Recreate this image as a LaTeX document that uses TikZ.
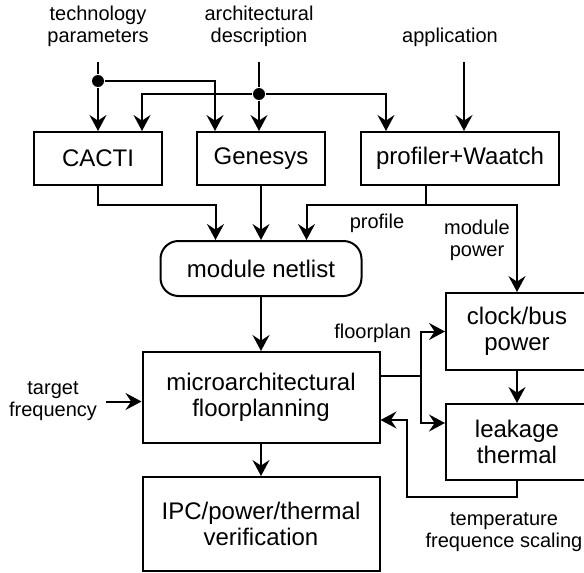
\documentclass[tikz,border=0pt]{standalone}
\usepackage{fontspec}
\setmainfont{Liberation Sans}
\usetikzlibrary{arrows.meta,positioning,calc}

\begin{document}
\begin{tikzpicture}[x=0.5pt,y=-0.5pt,line width=1pt,
  box/.style={draw,align=center,inner sep=0pt,
    font=\fontsize{12}{13}\selectfont},
  lbl/.style={align=center,inner sep=0pt,font=\fontsize{10}{11}\selectfont},
  jdot/.style={circle,fill,inner sep=0pt,minimum size=6pt},
  arr/.style={-{Stealth[length=8pt,width=8.5pt,inset=2.8pt]}}]

\useasboundingbox (0,0) rectangle (584,573);

% inputs
\node[lbl] (techp) at (98,26) {technology\\parameters};
\node[lbl] (archd) at (259,26) {architectural\\description};
\node[lbl] (appl) at (450,37) {application};

% tools
\node[box,minimum width=64pt,minimum height=26.5pt] (cacti) at (98,158.5) {CACTI};
\node[box,minimum width=64pt,minimum height=26.5pt] (genesys) at (261,158.5) {Genesys};
\node[box,minimum width=99pt,minimum height=26.5pt] (profiler) at (460,158.5) {profiler+Waatch};

% flow
\node[box,rounded corners=9pt,minimum width=100.5pt,minimum height=27.5pt]
  (netlist) at (261,268.5) {module netlist};
\node[box,minimum width=118.5pt,minimum height=45.5pt]
  (micro) at (261,397.5) {microarchitectural\\floorplanning};
\node[box,minimum width=118.5pt,minimum height=47pt]
  (ipc) at (261,524) {IPC/power/thermal\\verification};
\node[box,minimum width=71pt,minimum height=38.5pt]
  (clock) at (517,331.5) {clock/bus\\power};
\node[box,minimum width=71pt,minimum height=38pt]
  (leak) at (517,442) {leakage\\thermal};

% input wires
\coordinate (techin) at (98,62);
\node[jdot] (d1) at (98,81) {};
\coordinate (archin) at (259,62);
\node[jdot] (d2) at (259,94) {};
\coordinate (appin) at (464,62);

\draw[arr] (techin) -- (d1) -- (d1 |- cacti.north);
\draw[arr] (d1) -| ([xshift=9.5pt]genesys.north west);
\draw[arr] (archin) -- (d2) -- (d2 |- genesys.north);
\draw[arr] (d2) -| ([xshift=-10.5pt]cacti.north east);
\draw[arr] (d2) -| ([xshift=13pt]profiler.north west);
\draw[arr] (appin) -- (appin |- profiler.north);

% into the netlist
\coordinate (busy) at (0,205);
\coordinate (pout) at ([xshift=-17pt]profiler.south);
\coordinate (pj) at (pout |- busy);
\draw[arr] (cacti.south) -- (cacti.south |- busy) -| ([xshift=28pt]netlist.north west);
\draw[arr] (genesys.south) -- (genesys.south |- netlist.north);
\draw (pout) -- (pj);
\draw[arr] (pj) -| ([xshift=-28pt]netlist.north east);
\draw[arr] (pj) -| (clock.north);
\node[lbl] (prof) at (377,223) {profile};
\node[lbl] (mpow) at (477,240) {module\\power};

\draw[arr] (netlist.south) -- (micro.north);
\draw[arr] (micro.south) -- (ipc.north);
\draw[arr] (clock.south) -- (leak.north);

% target frequency
\node[lbl] (tfreq) at (53,401.5) {target\\frequency};
\draw[arr] ([xshift=4pt]tfreq.east) -- (tfreq.east -| micro.west);

% floorplan out
\coordinate (fj) at (421,376);
\draw (micro.east |- fj) -- (fj);
\draw[arr] (fj) |- (clock.west);
\draw[arr] (fj) |- ([yshift=9.5pt]leak.west);
\node[lbl,anchor=east] (fplan) at (412,333) {floorplan};

% feedback
\coordinate (fb) at (407,497);
\draw[arr] (leak.south) |- (fb) |- ([yshift=-11.25pt]micro.east);
\node[lbl] (tscal) at (504,532) {temperature\\frequence scaling};

\end{tikzpicture}
\end{document}
